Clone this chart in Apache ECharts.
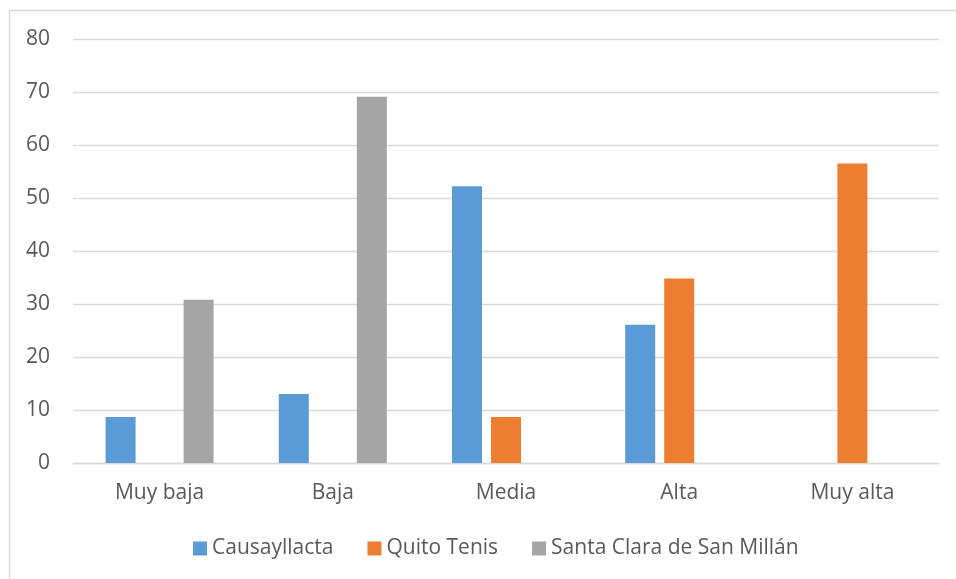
<!DOCTYPE html>
<html>
<head>
<meta charset="utf-8">
<script src="https://cdn.jsdelivr.net/npm/echarts@6/dist/echarts.min.js"></script>
<style>
html,body{margin:0;padding:0;background:#fff;}
#c{width:956px;height:579px;}
</style>
</head>
<body>
<div id="c"></div>
<script>
const categories = ['Muy baja', 'Baja', 'Media', 'Alta', 'Muy alta'];
const seriesNames = ['Causayllacta', 'Quito Tenis', 'Santa Clara de San Millán'];
const causayllacta = [8.7, 13.0, 52.2, 26.1, null];
const quitoTenis = [null, null, 8.7, 34.8, 56.5];
const santaClara = [30.8, 69.1, null, null, null];
const yTicks = [0, 10, 20, 30, 40, 50, 60, 70, 80];
const colors = ['#5b9bd5', '#ed7d31', '#a5a5a5'];

const font = '"Open Sans", "Noto Sans", sans-serif';
const chart = echarts.init(document.getElementById('c'));
const dataSets = [causayllacta, quitoTenis, santaClara];
chart.setOption({
  animation: false,
  backgroundColor: '#fff',
  color: colors,
  graphic: [{
    type: 'rect',
    shape: { x: 9.5, y: 10.5, width: 1000, height: 1000 },
    style: { fill: 'none', stroke: '#d9d9d9', lineWidth: 1.3 },
    silent: true
  }],
  grid: { left: 73, right: 17, top: 39, bottom: 116, containLabel: false },
  legend: {
    data: seriesNames,
    left: 188,
    top: 533,
    itemWidth: 14,
    itemHeight: 14,
    itemGap: 34,
    icon: 'rect',
    textStyle: { color: '#595959', fontSize: 21, fontFamily: font }
  },
  xAxis: {
    type: 'category',
    data: categories,
    axisLine: { show: true, lineStyle: { color: '#d9d9d9', width: 1.3 } },
    axisTick: { show: false },
    axisLabel: { color: '#595959', fontSize: 21, fontFamily: font, margin: 20 }
  },
  yAxis: {
    type: 'value',
    min: yTicks[0],
    max: yTicks[yTicks.length - 1],
    interval: yTicks[1] - yTicks[0],
    axisLine: { show: false },
    axisTick: { show: false },
    splitLine: { lineStyle: { color: '#d9d9d9', width: 1.3 } },
    axisLabel: { color: '#595959', fontSize: 21, fontFamily: font, margin: 23 }
  },
  series: seriesNames.map((name, i) => ({
    name: name,
    type: 'bar',
    data: dataSets[i],
    barWidth: 30,
    barGap: '30%',
    itemStyle: { color: colors[i] }
  }))
});
</script>
</body>
</html>
